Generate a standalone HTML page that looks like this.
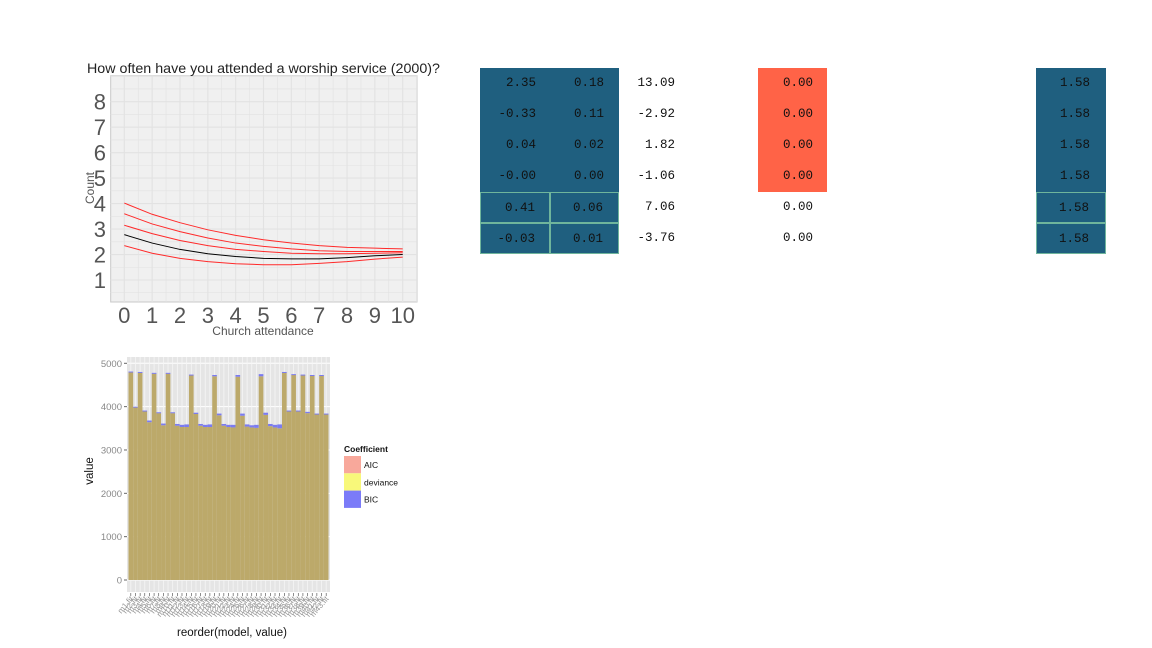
<!DOCTYPE html>
<html><head><meta charset="utf-8"><style>
body{margin:0;background:#fff;width:1152px;height:648px;overflow:hidden;position:relative;font-family:"Liberation Sans",sans-serif}
svg{position:absolute;left:0;top:0}
.cell{position:absolute;height:31px;line-height:31px;font-family:"Liberation Mono",monospace;font-size:12.5px;color:#111;text-align:right;box-sizing:border-box}
.b{background:#1f5f7f}.r{background:#ff6347}.bd{border:1px solid #6fb59c}
</style></head><body>
<svg width="1152" height="648">
<g id="top"></g>
<g id="bot"></g>
</svg>
<div id="tbl"></div>
<script>
const NS="http://www.w3.org/2000/svg";
function mk(p,t,a,txt){const e=document.createElementNS(NS,t);for(const k in a)e.setAttribute(k,a[k]);if(txt!==undefined)e.textContent=txt;p.appendChild(e);return e;}
// ---- top chart data
const xCats=[0,1,2,3,4,5,6,7,8,9,10];
const yTicks=[1,2,3,4,5,6,7,8];
const meanLine=[2.78,2.45,2.2,2.03,1.92,1.85,1.83,1.83,1.88,1.95,2.0];
const lowerLine=[2.35,2.05,1.85,1.72,1.64,1.6,1.6,1.65,1.72,1.82,1.9];
const upperLine1=[4.02,3.58,3.25,2.97,2.75,2.58,2.45,2.35,2.28,2.25,2.22];
const upperLine2=[3.6,3.2,2.9,2.65,2.45,2.32,2.22,2.15,2.12,2.12,2.12];
const upperLine3=[3.15,2.82,2.55,2.35,2.2,2.12,2.05,2.03,2.03,2.05,2.07];
// ---- bottom chart data
const bicVals=[4810,4000,4800,3910,3680,4780,3870,3610,4780,3870,3600,3580,3590,4740,3860,3600,3580,3590,4730,3840,3600,3580,3580,4730,3840,3590,3570,3580,4750,3860,3600,3580,3590,4800,3910,4750,3910,4740,3880,4730,3840,4730,3840];
const aicVals=[4790,3990,4780,3890,3640,4760,3850,3570,4760,3850,3560,3530,3530,4720,3830,3560,3530,3530,4700,3800,3560,3530,3520,4690,3790,3540,3520,3510,4700,3810,3550,3520,3500,4790,3900,4730,3900,4730,3850,4710,3820,4710,3820];
const barTicks=[0,1000,2000,3000,4000,5000];
const legendLabels=["AIC","deviance","BIC"];

(function(){
const g=document.getElementById('top');
const L=110.7,R=417,T=75.7,B=302;
const sx=v=>124.3+v*27.84, sy=v=>101.7-(v-8)*25.47;
const bg=mk(g,'rect',{x:L,y:T,width:R-L,height:B-T,fill:'#f0f0f0',stroke:'#c8c8c8'});

for(let v=0.5;v<=9;v+=0.5){const y=sy(v);if(y>T&&y<B)mk(g,'line',{x1:L,x2:R,y1:y,y2:y,stroke:'#e2e2e2','stroke-width':v%1?0.6:1.1});}
for(let v=-0.5;v<=10.5;v+=0.5){const x=sx(v);if(x>L&&x<R)mk(g,'line',{x1:x,x2:x,y1:T,y2:B,stroke:'#e2e2e2','stroke-width':v%1?0.6:1.1});}
const lines=[[lowerLine,'#ff2a2a'],[upperLine3,'#ff2a2a'],[upperLine2,'#ff2a2a'],[upperLine1,'#ff2a2a'],[meanLine,'#000']];
lines.forEach(([d,c],i)=>{const p=mk(g,'polyline',{points:d.map((v,j)=>sx(xCats[j])+','+sy(v)).join(' '),fill:'none',stroke:c,'stroke-width':1});
});
yTicks.forEach(v=>{const t=mk(g,'text',{x:106,y:sy(v)+8,'text-anchor':'end','font-size':22,fill:'#555'},v);});
xCats.forEach(v=>{const t=mk(g,'text',{x:sx(v),y:323,'text-anchor':'middle','font-size':22,fill:'#555'},v);});
let t=mk(g,'text',{x:87,y:73,'font-size':14,fill:'#222',textLength:353,lengthAdjust:'spacingAndGlyphs'},'How often have you attended a worship service (2000)?');
t=mk(g,'text',{x:263,y:335,'text-anchor':'middle','font-size':12,fill:'#555'},'Church attendance');
t=mk(g,'text',{x:0,y:0,'text-anchor':'middle','font-size':12,fill:'#555',transform:'translate(94,188) rotate(-90)'},'Count');
})();

(function(){
const g=document.getElementById('bot');
const L=127,R=330,T=357,B=592;
const sy=v=>580-v*0.04334;
const n=bicVals.length,bw=(R-L-3)/n,x0=L+1.5;
mk(g,'rect',{x:L,y:T,width:R-L,height:B-T,fill:'#e5e5e5'});
barTicks.forEach(v=>mk(g,'line',{x1:L,x2:R,y1:sy(v),y2:sy(v),stroke:'#fff','stroke-width':1}));
for(let i=0;i<n;i++){const x=x0+i*bw;mk(g,'line',{x1:x+bw/2,x2:x+bw/2,y1:T,y2:B,stroke:'#f6f6f6','stroke-width':0.8});}
for(let i=0;i<n;i++){const x=x0+i*bw;
const b=mk(g,'rect',{x:x,y:sy(aicVals[i]),width:bw,height:sy(0)-sy(aicVals[i]),fill:'#bca96a'});

const c=mk(g,'rect',{x:x,y:sy(bicVals[i]),width:bw,height:Math.max(1,sy(aicVals[i])-sy(bicVals[i])),fill:'#7b7bf0'});

mk(g,'line',{x1:x+bw/2,x2:x+bw/2,y1:B+1,y2:B+4,stroke:'#444','stroke-width':0.6});
const tl=mk(g,'text',{x:0,y:0,'font-size':8,fill:'#999',transform:`translate(${x+bw/2+3},${B+7}) rotate(-50)`,'text-anchor':'end'},'m'+(i+1)+'.fit');
}
barTicks.forEach(v=>{mk(g,'line',{x1:L-3,x2:L,y1:sy(v),y2:sy(v),stroke:'#666'});
const t=mk(g,'text',{x:L-5,y:sy(v)+3.5,'text-anchor':'end','font-size':9.5,fill:'#888'},v);});
let t=mk(g,'text',{x:232,y:636,'text-anchor':'middle','font-size':11.5,fill:'#111'},'reorder(model, value)');
t=mk(g,'text',{x:0,y:0,'text-anchor':'middle','font-size':11.5,fill:'#111',transform:'translate(93,471) rotate(-90)'},'value');
t=mk(g,'text',{x:344,y:452,'font-size':8.5,'font-weight':'bold',fill:'#111'},'Coefficient');
const cols=['#f8a89b','#f8f87a','#7b7bf8'];
legendLabels.forEach((l,i)=>{const r=mk(g,'rect',{x:344,y:456+i*17.3,width:17,height:17.3,fill:cols[i]});
const tt=mk(g,'text',{x:364,y:468+i*17.3,'font-size':8.5,fill:'#111'},l);});
})();

// table
const col1=["2.35","-0.33","0.04","-0.00","0.41","-0.03"];
const col2=["0.18","0.11","0.02","0.00","0.06","0.01"];
const col3=["13.09","-2.92","1.82","-1.06","7.06","-3.76"];
const col4=["0.00","0.00","0.00","0.00","0.00","0.00"];
const col5=["1.58","1.58","1.58","1.58","1.58","1.58"];
(function(){
const tb=document.getElementById('tbl');
const specs=[[col1,480,70,'b',14],[col2,550,69,'b',15],[col3,620,70,'',15],[col4,758,69,'r',14],[col5,1036,70,'b',16]];
specs.forEach(([arr,x,w,cls,pr])=>{arr.forEach((v,i)=>{const d=document.createElement('div');
let c='cell';if(cls==='r'&&i<4)c+=' r';if(cls==='b'){c+=' b';if(i>=4)c+=' bd';}
d.className=c;d.style.left=x+'px';d.style.top=(68+i*31)+'px';d.style.width=w+'px';
d.style.paddingRight=pr+'px';d.textContent=v;
tb.appendChild(d);});});
})();
</script>
</body></html>
